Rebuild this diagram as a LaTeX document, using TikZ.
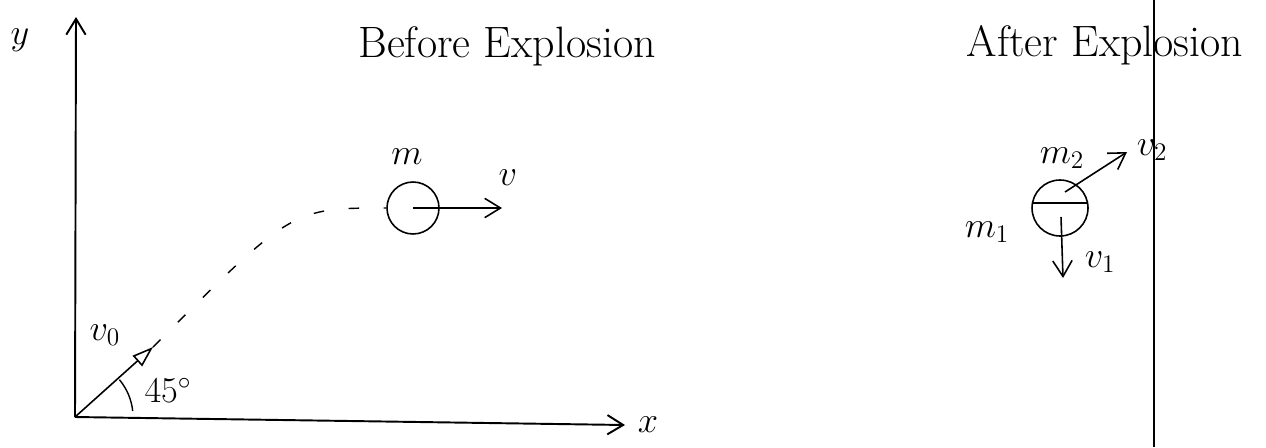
\documentclass[tikz,border=0pt]{standalone}
\usetikzlibrary{arrows.meta}

\begin{document}
\begin{tikzpicture}[x=0.02cm,y=-0.02cm,
  lbl/.style={font=\fontsize{20}{24}\selectfont},
  title/.style={font=\fontsize{25}{30}\selectfont},
  vec/.style={line width=0.9pt,-{Straight Barb[length=9pt,width=11pt]}}]
\useasboundingbox (0,0) rectangle (1266,447);
% axes
\coordinate (O) at (75,417);
\coordinate (ytip) at (76,17);
\coordinate (xtip) at (625,425);
\draw[vec,line width=1.1pt] (O) -- (ytip);
\draw[vec,line width=1.1pt] (O) -- (xtip);
\node[lbl] (ylab) at (20,40) {$y$};
\node[lbl] (xlab) at (648,425) {$x$};
% launch
\coordinate (v0tip) at (153,347);
\draw[line width=0.9pt,-{Triangle[open,length=12pt,width=8pt]}] (O) -- (v0tip);
\node[lbl] (v0lab) at (105,335) {$v_0$};
\draw[line width=0.8pt] (O) ++(-40:58) arc[start angle=-40,end angle=-6,radius=58];
\node[lbl] (anglab) at (168,390) {$45^\circ$};
% before
\node[title] (before) at (507,46) {Before Explosion};
\node[circle,draw,line width=0.9pt,minimum size=1.04cm,inner sep=0pt] (ball) at (413,208) {};
\draw[dashed,line width=0.8pt,dash pattern=on 6pt off 14pt] (v0tip) .. controls (292,208) .. (ball.west);
\node[lbl] (mlab) at (407,157) {$m$};
\coordinate (vtip) at (502,208);
\draw[vec] (ball.center) -- (vtip);
\node[lbl] (vlab) at (508,178) {$v$};
% after
\draw[line width=0.7pt] (1154,0) -- (1154,447);
\node[title] (after) at (1105,45) {After Explosion};
\node[circle,draw,line width=0.9pt,minimum size=1.12cm,inner sep=0pt] (frag) at (1060,208) {};
\draw[line width=1pt] ([yshift=0.1cm,xshift=0.01cm]frag.west) -- ([yshift=0.1cm,xshift=-0.01cm]frag.east);
\coordinate (v2tip) at (1127,152);
\coordinate (v1tip) at (1063,278);
\draw[vec] ([shift={(5,-16)}]frag.center) -- (v2tip);
\draw[vec] ([shift={(1,9)}]frag.center) -- (v1tip);
\node[lbl] (m2lab) at (1062,158) {$m_2$};
\node[lbl] (v2lab) at (1152,150) {$v_2$};
\node[lbl] (m1lab) at (987,232) {$m_1$};
\node[lbl] (v1lab) at (1100,262) {$v_1$};
\end{tikzpicture}
\end{document}
